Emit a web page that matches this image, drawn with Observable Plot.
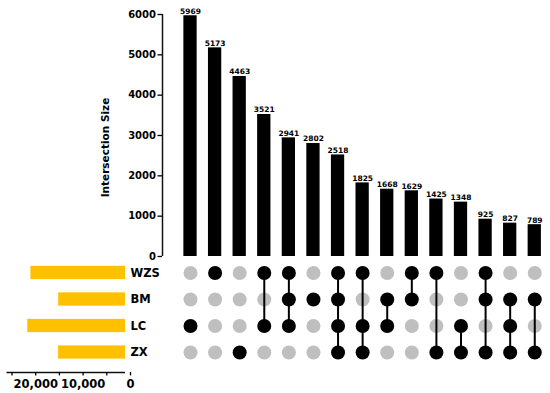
<!DOCTYPE html>
<html>
<head>
<meta charset="utf-8">
<script src="https://cdn.jsdelivr.net/npm/d3@7"></script>
<script src="https://cdn.jsdelivr.net/npm/@observablehq/plot@0.6"></script>
<style>
  html, body { margin: 0; padding: 0; background: #fff; }
  #chart { position: relative; width: 550px; height: 393px; overflow: hidden; }
  #chart svg { position: absolute; left: 0; top: 0; }
</style>
</head>
<body>
<div id="chart"></div>
<script>
// ---- data ----
const setNames = ["WZS", "BM", "LC", "ZX"];
const setSizes = [19957, 14099, 20617, 14120];
const intersectionSizes = [5969, 5173, 4463, 3521, 2941, 2802, 2518, 1825, 1668, 1629, 1425, 1348, 925, 827, 789];
const intersectionSets = [
  ["LC"], ["WZS"], ["ZX"], ["WZS", "LC"], ["WZS", "BM", "LC"], ["BM"],
  ["WZS", "BM", "LC", "ZX"], ["WZS", "LC", "ZX"], ["BM", "LC"], ["WZS", "BM"],
  ["WZS", "ZX"], ["LC", "ZX"], ["WZS", "BM", "ZX"], ["BM", "LC", "ZX"], ["BM", "ZX"]
];
const sizeTicks = [0, 1000, 2000, 3000, 4000, 5000, 6000];
const setSizeTicks = [0, 5000, 10000, 15000, 20000, 25000];
const setSizeLabelTicks = [0, 10000, 20000];

// ---- derived tables ----
const columns = intersectionSizes.map((size, i) => ({i, size, sets: intersectionSets[i]}));
const cells = columns.flatMap(c => setNames.map((s, k) => ({i: c.i, row: k, member: c.sets.includes(s)})));
const links = columns.filter(c => c.sets.length > 1).map(c => {
  const rows = c.sets.map(s => setNames.indexOf(s));
  return {i: c.i, r1: d3.min(rows), r2: d3.max(rows)};
});
const setData = setNames.map((name, k) => ({name, row: k, size: setSizes[k]}));

// ---- shared scale configuration ----
const W = 550, H = 393;
const xDomain = [-1.139, 14.64];       // column index domain
const rowDomain = [-0.75, 3.75];       // set row index domain
const barHalf = 0.27;
const rowHalf = 0.25;
const gold = "#FFC000";
const gray = "#BFBFBF";
const baseStyle = {background: "transparent", fontFamily: "DejaVu Sans, sans-serif", fontWeight: "bold", overflow: "visible"};

const chart = document.getElementById("chart");

// Top: intersection size bars
chart.append(Plot.plot({
  width: W, height: H,
  marginLeft: 162, marginRight: 0, marginTop: 14, marginBottom: 137,
  style: baseStyle,
  x: {domain: xDomain, axis: null},
  y: {domain: [0, 6000], axis: null},
  marks: [
    Plot.ruleX([xDomain[0]], {stroke: "#111", strokeWidth: 1.5}),
    Plot.axisY({ticks: sizeTicks, tickFormat: d => String(d), tickSize: 4.5, tickPadding: 2, fontSize: 10, strokeWidth: 1.3, label: null}),
    Plot.rectY(columns, {x1: d => d.i - barHalf, x2: d => d.i + barHalf, y: "size", fill: "#000"}),
    Plot.text(columns, {x: "i", y: "size", text: d => String(d.size), lineAnchor: "bottom", dy: -2, fontSize: 7.5}),
    Plot.text(["Intersection Size"], {frameAnchor: "left", textAnchor: "middle", lineAnchor: "middle", rotate: -90, dx: -57, dy: 12, fontSize: 10.5})
  ]
}));

// Matrix of set memberships
chart.append(Plot.plot({
  width: W, height: H,
  marginLeft: 162, marginRight: 0, marginTop: 252.6, marginBottom: 21.1,
  style: baseStyle,
  x: {domain: xDomain, axis: null},
  y: {domain: rowDomain, reverse: true, axis: null},
  marks: [
    Plot.dot(cells.filter(d => !d.member), {x: "i", y: "row", r: 7, fill: gray, stroke: null}),
    Plot.ruleX(links, {x: "i", y1: "r1", y2: "r2", stroke: "#000", strokeWidth: 2}),
    Plot.dot(cells.filter(d => d.member), {x: "i", y: "row", r: 7, fill: "#000", stroke: null})
  ]
}));

// Left: set size bars
chart.append(Plot.plot({
  width: W, height: H,
  marginLeft: 6.5, marginRight: 425, marginTop: 252.6, marginBottom: 21.1,
  style: baseStyle,
  x: {domain: [0, 25000], reverse: true, axis: null},
  y: {domain: rowDomain, reverse: true, axis: null},
  marks: [
    Plot.rectX(setData, {x: "size", y1: d => d.row - rowHalf, y2: d => d.row + rowHalf, fill: gold}),
    Plot.ruleY([rowDomain[1]], {stroke: "#111", strokeWidth: 1.5}),
    Plot.axisX({anchor: "bottom", ticks: setSizeTicks, tickSize: 3.5, tickPadding: 4, strokeWidth: 1.3,
      tickFormat: d => setSizeLabelTicks.includes(d) ? d3.format(",")(d) : "", fontSize: 11.5, dx: 5, label: null}),
    Plot.text(setData, {x: 0, y: "row", text: "name", textAnchor: "start", dx: 5, fontSize: 11.5})
  ]
}));
</script>
</body>
</html>
